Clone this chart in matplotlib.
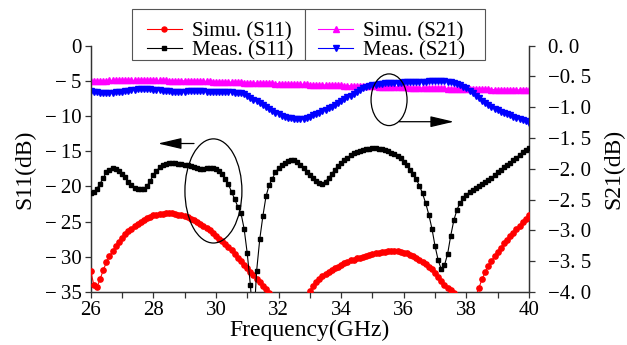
import numpy as np
import matplotlib
matplotlib.use("Agg")
import matplotlib.pyplot as plt
from matplotlib.patches import Ellipse, Rectangle
from matplotlib.ticker import MultipleLocator, FixedLocator
from matplotlib.lines import Line2D

# ---------------- data ----------------
freq = [round(26 + 0.1 * i, 1) for i in range(141)]

meas_s11 = [
    -20.9, -20.8, -20.3, -19.6, -18.8, -18.0, -17.6, -17.4, -17.5, -17.8,
    -18.2, -18.7, -19.3, -19.8, -20.2, -20.4, -20.4, -20.3, -19.9, -19.2,
    -18.4, -17.8, -17.3, -17.0, -16.8, -16.7, -16.7, -16.7, -16.8, -16.8,
    -16.9, -17.0, -17.1, -17.3, -17.4, -17.5, -17.5, -17.4, -17.4, -17.4,
    -17.5, -17.8, -18.3, -18.9, -19.7, -20.8, -21.8, -22.9, -23.8, -26.0,
    -29.5, -34.0, -40.0, -32.0, -27.5, -24.2, -21.4, -19.8, -18.9, -18.0,
    -17.4, -17.0, -16.6, -16.4, -16.3, -16.3, -16.5, -16.9, -17.4, -17.9,
    -18.4, -18.8, -19.2, -19.5, -19.6, -19.3, -18.8, -18.2, -17.6, -17.1,
    -16.6, -16.2, -15.9, -15.6, -15.3, -15.1, -14.9, -14.8, -14.7, -14.7,
    -14.6, -14.6, -14.7, -14.7, -14.8, -15.0, -15.2, -15.4, -15.7, -16.0,
    -16.5, -17.0, -17.6, -18.3, -19.0, -19.9, -21.0, -22.4, -24.0, -26.0,
    -28.5, -30.5, -31.8, -31.2, -29.6, -27.0, -24.8, -23.3, -22.3, -21.7,
    -21.2, -20.8, -20.5, -20.2, -19.9, -19.6, -19.4, -19.1, -18.8, -18.4,
    -18.0, -17.6, -17.3, -17.0, -16.7, -16.3, -15.9, -15.5, -15.1, -14.8,
    -14.5,
]

simu_s11 = [
    -32.0, -34.0, -34.3, -33.2, -31.9, -30.8, -29.9, -29.2, -28.5, -27.9,
    -27.3, -26.8, -26.4, -26.0, -25.6, -25.3, -25.0, -24.7, -24.5, -24.3,
    -24.1, -24.0, -23.9, -23.85, -23.8, -23.8, -23.8, -23.9, -24.0, -24.1,
    -24.2, -24.4, -24.6, -24.8, -25.0, -25.3, -25.6, -25.9, -26.2, -26.6,
    -27.0, -27.4, -27.8, -28.2, -28.6, -29.1, -29.6, -30.1, -30.6, -31.1,
    -31.6, -32.1, -32.6, -33.1, -33.6, -34.1, -34.6, -35.2, -36.0, -37.0,
    -38.0, -39.5, -41.0, -43.0, -46.0, -43.0, -41.0, -39.0, -37.5, -36.2,
    -34.8, -34.2, -33.6, -33.1, -32.7, -32.4, -32.1, -31.9, -31.6, -31.4,
    -31.1, -30.9, -30.7, -30.5, -30.4, -30.2, -30.1, -30.0, -29.9, -29.7,
    -29.6, -29.5, -29.4, -29.3, -29.3, -29.2, -29.2, -29.2, -29.2, -29.3,
    -29.4, -29.5, -29.7, -29.9, -30.1, -30.4, -30.7, -31.0, -31.4, -31.8,
    -32.3, -32.8, -33.4, -34.0, -34.5, -34.7, -35.2, -36.0, -37.5, -39.5,
    -42.0, -39.0, -37.0, -35.6, -34.4, -33.2, -32.2, -31.3, -30.6, -29.9,
    -29.3, -28.7, -28.1, -27.6, -27.1, -26.6, -26.1, -25.6, -25.1, -24.6,
    -24.1,
]

simu_s21 = [
    -0.570, -0.569, -0.568, -0.567, -0.566, -0.566, -0.565, -0.565, -0.565, -0.565,
    -0.565, -0.565, -0.564, -0.564, -0.564, -0.564, -0.564, -0.564, -0.564, -0.564,
    -0.564, -0.564, -0.565, -0.565, -0.565, -0.566, -0.566, -0.567, -0.568, -0.569,
    -0.570, -0.571, -0.572, -0.574, -0.575, -0.577, -0.578, -0.580, -0.581, -0.583,
    -0.584, -0.586, -0.587, -0.589, -0.590, -0.592, -0.594, -0.595, -0.597, -0.599,
    -0.600, -0.602, -0.603, -0.605, -0.607, -0.608, -0.610, -0.611, -0.613, -0.614,
    -0.616, -0.617, -0.619, -0.620, -0.622, -0.623, -0.625, -0.626, -0.628, -0.629,
    -0.631, -0.632, -0.634, -0.635, -0.637, -0.638, -0.640, -0.641, -0.643, -0.644,
    -0.646, -0.647, -0.649, -0.650, -0.652, -0.653, -0.655, -0.656, -0.658, -0.659,
    -0.661, -0.662, -0.664, -0.665, -0.667, -0.668, -0.670, -0.671, -0.673, -0.674,
    -0.676, -0.677, -0.679, -0.680, -0.682, -0.683, -0.685, -0.686, -0.688, -0.689,
    -0.691, -0.692, -0.694, -0.695, -0.697, -0.698, -0.700, -0.701, -0.702, -0.703,
    -0.704, -0.705, -0.706, -0.707, -0.708, -0.709, -0.710, -0.711, -0.712, -0.712,
    -0.713, -0.714, -0.715, -0.715, -0.716, -0.717, -0.717, -0.718, -0.719, -0.719,
    -0.720,
]

meas_s21 = [
    -0.735, -0.745, -0.755, -0.765, -0.770, -0.772, -0.770, -0.765, -0.760, -0.752,
    -0.745, -0.738, -0.730, -0.722, -0.715, -0.710, -0.706, -0.704, -0.705, -0.707,
    -0.712, -0.718, -0.725, -0.732, -0.738, -0.742, -0.745, -0.746, -0.746, -0.745,
    -0.744, -0.743, -0.742, -0.742, -0.742, -0.742, -0.743, -0.744, -0.745, -0.746,
    -0.747, -0.748, -0.750, -0.752, -0.755, -0.758, -0.762, -0.767, -0.775, -0.790,
    -0.815, -0.845, -0.875, -0.905, -0.935, -0.965, -0.995, -1.025, -1.055, -1.085,
    -1.110, -1.135, -1.155, -1.170, -1.182, -1.190, -1.193, -1.192, -1.185, -1.170,
    -1.150, -1.130, -1.110, -1.090, -1.065, -1.040, -1.015, -0.990, -0.960, -0.930,
    -0.900, -0.870, -0.840, -0.810, -0.780, -0.750, -0.720, -0.695, -0.675, -0.660,
    -0.645, -0.633, -0.625, -0.618, -0.612, -0.608, -0.605, -0.602, -0.600, -0.598,
    -0.596, -0.594, -0.592, -0.590, -0.588, -0.586, -0.584, -0.582, -0.580, -0.578,
    -0.577, -0.576, -0.577, -0.580, -0.585, -0.595, -0.608, -0.623, -0.640, -0.665,
    -0.695, -0.730, -0.770, -0.810, -0.850, -0.890, -0.925, -0.960, -0.990, -1.020,
    -1.045, -1.070, -1.090, -1.110, -1.130, -1.150, -1.170, -1.190, -1.210, -1.230,
    -1.250,
]

x_ticks = [26, 28, 30, 32, 34, 36, 38, 40]
left_ticks = [0, -5, -10, -15, -20, -25, -30, -35]
left_tick_labels = ["0", "\u2212\u20095", "\u2212\u200910", "\u2212\u200915", "\u2212\u200920",
                    "\u2212\u200925", "\u2212\u200930", "\u2212\u200935"]
right_ticks = [0.0, -0.5, -1.0, -1.5, -2.0, -2.5, -3.0, -3.5, -4.0]
right_tick_labels = ["0. 0", "\u22120. 5", "\u22121. 0", "\u22121. 5", "\u22122. 0",
                     "\u22122. 5", "\u22123. 0", "\u22123. 5", "\u22124. 0"]
legend_left = ["Simu. (S11)", "Meas. (S11)"]
legend_right = ["Simu. (S21)", "Meas. (S21)"]

# ---------------- figure ----------------
plt.rcParams["font.family"] = ["Liberation Serif", "DejaVu Serif"]

W, H = 627, 345
fig = plt.figure(figsize=(W / 100, H / 100), dpi=100)
ax = fig.add_axes([90.7 / W, 1 - 292 / H, (529 - 90.7) / W, (292 - 45.7) / H])
ax2 = ax.twinx()

spine_color = "#333333"
for a in (ax, ax2):
    for s in a.spines.values():
        s.set_color(spine_color)
        s.set_linewidth(0.9)
    a.spines["top"].set_visible(False)

ax.set_xlim(26, 40)
ax.set_ylim(-35, 0)
ax2.set_ylim(-4.0, 0.0)

ax.xaxis.set_major_locator(FixedLocator(x_ticks))
ax.xaxis.set_minor_locator(MultipleLocator(1))
ax.yaxis.set_major_locator(FixedLocator(left_ticks))
ax.set_yticklabels(left_tick_labels)
ax2.yaxis.set_major_locator(FixedLocator(right_ticks))
ax2.set_yticklabels(right_tick_labels)

ax.tick_params(axis="both", which="both", direction="out", length=4, width=0.9,
               colors=spine_color, labelcolor="black", labelsize=15, pad=2.5)
ax2.tick_params(axis="y", direction="out", length=4.5, width=0.9,
                colors=spine_color, labelcolor="black", labelsize=15, pad=9)

ax.set_xlabel("Frequency(GHz)", fontsize=17, labelpad=0)
ax.set_ylabel("S11(dB)", fontsize=17, labelpad=7)
ax2.set_ylabel("S21(dB)", fontsize=17, labelpad=9)

# curves
ax2.plot(freq, simu_s21, color="#ff00ff", lw=0.8, marker="^", ms=4.4,
         mec="#ff00ff", mfc="#ff00ff", zorder=3)
ax2.plot(freq, meas_s21, color="#0000ff", lw=0.8, marker="v", ms=4.8,
         mec="#0000ff", mfc="#0000ff", zorder=3)
ax.set_zorder(ax2.get_zorder() + 1)
ax.patch.set_visible(False)
ax.plot(freq, simu_s11, color="#ff0000", lw=0.8, marker="o", ms=3.8,
        mec="#ff0000", mfc="#ff0000", zorder=3)
ax.plot(freq, meas_s11, color="black", lw=0.8, marker="s", ms=2.9,
        mec="black", mfc="black", zorder=4)

# annotations: ellipses + arrows
arrow_style = "-|>,head_length=1.45,head_width=0.34"
ax.add_patch(Ellipse((29.92, -20.64), 1.82, 14.8, fill=False, ec="black", lw=0.9, zorder=5))
ax.annotate("", xy=(28.15, -13.9), xytext=(29.3, -13.9),
            arrowprops=dict(arrowstyle=arrow_style, color="black", lw=0.9,
                            shrinkA=0, shrinkB=0), zorder=5)
ax.add_patch(Ellipse((35.53, -7.68), 1.15, 7.34, fill=False, ec="black", lw=0.9, zorder=5))
ax.annotate("", xy=(37.6, -10.8), xytext=(35.85, -10.8),
            arrowprops=dict(arrowstyle=arrow_style, color="black", lw=0.9,
                            shrinkA=0, shrinkB=0), zorder=5)

# legends: two adjoining boxes
def handle(color, marker, ms):
    return Line2D([0], [0], color=color, lw=0.8, marker=marker, ms=ms,
                  mec=color, mfc=color)

box_top, box_bot = 8.7, 59.5
for x0, x1 in ((132.3, 305.0), (305.0, 485.0)):
    fig.patches.append(Rectangle((x0 / W, 1 - box_bot / H), (x1 - x0) / W,
                                 (box_bot - box_top) / H, transform=fig.transFigure,
                                 facecolor="white", edgecolor="#555555", lw=0.8,
                                 zorder=9))

leg_kw = dict(fontsize=15, frameon=False, handlelength=1.68, handletextpad=0.48,
              borderpad=0.0, labelspacing=0.0, borderaxespad=0.0, loc="upper left",
              bbox_transform=fig.transFigure)
lg1 = fig.legend([handle("#ff0000", "o", 3.6), handle("black", "s", 2.8)],
                 legend_left, bbox_to_anchor=(146.7 / W, 1 - 21.5 / H), **leg_kw)
lg2 = fig.legend([handle("#ff00ff", "^", 3.8), handle("#0000ff", "v", 4.2)],
                 legend_right, bbox_to_anchor=(318.0 / W, 1 - 21.5 / H), **leg_kw)
for lg in (lg1, lg2):
    lg.set_zorder(10)

fig.savefig("out.png", dpi=100, facecolor="white")
